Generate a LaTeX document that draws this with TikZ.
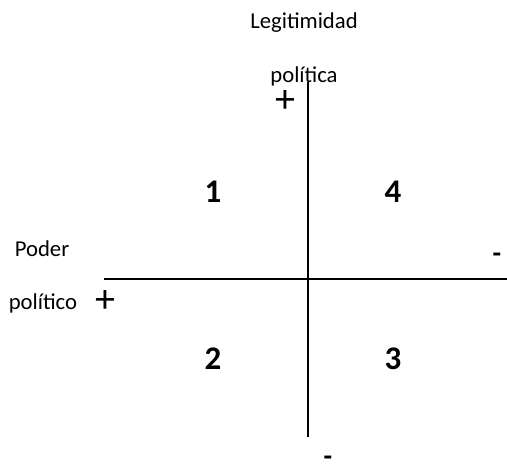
\documentclass[tikz,border=0pt]{standalone}
\usepackage{fontspec}
\setmainfont{Carlito}
\begin{document}
\begin{tikzpicture}[x=1pt,y=-1pt,
  lbl/.style={inner sep=0pt,anchor=base,font=\fontsize{22.7}{26}\selectfont},
  num/.style={inner sep=0pt,font=\fontsize{33}{38}\selectfont\bfseries},
  sgn/.style={inner sep=0pt,text height=0.45em,text depth=0pt,font=\fontsize{40}{44}\selectfont},
  dsh/.style={inner sep=0pt,anchor=base,text height=0pt,text depth=0pt,font=\fontsize{28}{32}\selectfont\bfseries},
  axis/.style={line width=1.5pt}]
\useasboundingbox (0,0) rectangle (507,465);
\coordinate (vt) at (308,82);
\coordinate (vb) at (308,437);
\coordinate (hl) at (104,279);
\coordinate (hr) at (507,279);
\draw[axis] (vt) -- (vb);
\draw[axis] (hl) -- (hr);
\node[lbl] (leg) at (304,29) {Legitimidad};
\node[lbl] (pol1) at (304,83) {política};
\node[lbl] (pod) at (42,257) {Poder};
\node[lbl] (pol2) at (43,310) {político};
\node[num] (n1) at (213,192) {1};
\node[num] (n4) at (393,192) {4};
\node[num] (n2) at (213,359) {2};
\node[num] (n3) at (393,359) {3};
\node[sgn] (p1) at (285,110) {+};
\node[sgn] (p2) at (105,310) {+};
\node[dsh] (m1) at (497,263) {-};
\node[dsh] (m2) at (328,466) {-};
\end{tikzpicture}
\end{document}
